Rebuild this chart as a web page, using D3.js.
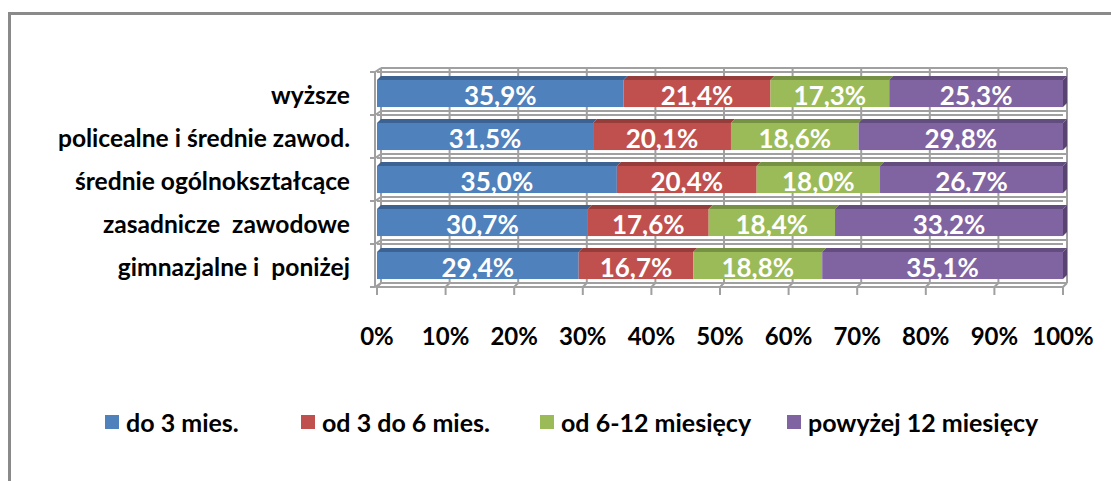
<!DOCTYPE html>
<html><head><meta charset="utf-8">
<script src="https://cdn.jsdelivr.net/npm/d3@7"></script>
<style>
html,body{margin:0;padding:0;background:#fff;}
svg{display:block;}
text{font-family:Lato,"Open Sans",sans-serif;font-weight:700;white-space:pre;}
</style></head>
<body>
<svg id="chart" width="1111" height="481"></svg>
<script>
const categories = ["wyższe","policealne i średnie zawod.","średnie ogólnokształcące","zasadnicze  zawodowe","gimnazjalne i  poniżej"];
const seriesNames = ["do 3 mies.","od 3 do 6 mies.","od 6-12 miesięcy","powyżej 12 miesięcy"];
const do3 = [35.9,31.5,35.0,30.7,29.4];
const od3do6 = [21.4,20.1,20.4,17.6,16.7];
const od6do12 = [17.3,18.6,18.0,18.4,18.8];
const powyzej12 = [25.3,29.8,26.7,33.2,35.1];
const tickValues = [0,0.1,0.2,0.3,0.4,0.5,0.6,0.7,0.8,0.9,1];
const tickLabels = ["0%","10%","20%","30%","40%","50%","60%","70%","80%","90%","100%"];

const colors = ["#4F81BD","#C0504D","#9BBB59","#8064A2"];
const topColors = ["#3B6291","#953D3B","#779144","#624D7E"];
const sideColors = ["#3B6291","#953D3B","#779144","#58446F"];

const svg = d3.select("#chart");
const D = 4; // 3D depth
const x = d3.scaleLinear().domain([0,1]).range([377,1063]);
const y = d3.scaleBand().domain(categories).range([72,287]).paddingInner(0.37).paddingOuter(0.185);
const step = y.step();

// chart border
svg.append("path").attr("d","M9.5,481 L9.5,13.5 L1111,13.5").attr("fill","none").attr("stroke","#8a8a8a").attr("stroke-width",3);

const grid = svg.append("g").attr("stroke","#a0a0a0").attr("stroke-width",2).attr("fill","none");
const yTop = y.range()[0], yBot = y.range()[1];
// vertical back-wall gridlines
tickValues.forEach(t=>{
  grid.append("line").attr("x1",x(t)+D).attr("x2",x(t)+D).attr("y1",yTop-D).attr("y2",yBot-D);
  grid.append("path").attr("d",`M${x(t)+D},${yBot-D} L${x(t)},${yBot} L${x(t)},${yBot+8}`);
});
// horizontal lines at category boundaries
d3.range(categories.length+1).forEach(i=>{
  const yb = yTop + i*step;
  grid.append("line").attr("x1",x(0)+D).attr("x2",x(1)+D).attr("y1",yb-D).attr("y2",yb-D);
  grid.append("line").attr("x1",x(0)).attr("x2",x(1)).attr("y1",yb).attr("y2",yb);
  grid.append("path").attr("d",`M${x(0)-7},${yb} L${x(0)-2},${yb} L${x(0)+D},${yb-D}`);
});
// axis / wall edge lines
grid.append("line").attr("x1",x(0)-2).attr("x2",x(0)-2).attr("y1",yTop).attr("y2",yBot);
grid.append("line").attr("x1",x(0)+D).attr("x2",x(0)+D).attr("y1",yTop-D).attr("y2",yBot-D);
grid.append("line").attr("x1",x(1)+D).attr("x2",x(1)+D).attr("y1",yTop-D).attr("y2",yBot-D);

// data
const rows = categories.map((c,i)=>({cat:c, s0:do3[i], s1:od3do6[i], s2:od6do12[i], s3:powyzej12[i]}));
const keys = ["s0","s1","s2","s3"];
const stacked = d3.stack().keys(keys).offset(d3.stackOffsetExpand)(rows);

const bars = svg.append("g");
stacked.forEach((layer,si)=>{
  layer.forEach(d=>{
    const c = d.data.cat;
    const x0 = x(d[0]), x1 = x(d[1]), yy = y(c), h = y.bandwidth();
    const g = bars.append("g");
    g.append("path").attr("d",`M${x0},${yy} L${x0+D},${yy-D} L${x1+D},${yy-D} L${x1},${yy} Z`).attr("fill",topColors[si]);
    if(si===keys.length-1){
      g.append("path").attr("d",`M${x1},${yy} L${x1+D},${yy-D} L${x1+D},${yy+h-D} L${x1},${yy+h} Z`).attr("fill",sideColors[si]);
    }
    g.append("rect").attr("x",x0).attr("y",yy).attr("width",x1-x0).attr("height",h).attr("fill",colors[si]);
  });
});
// data labels
const fmt = v => d3.format(".1f")(v).replace(".",",")+"%";
stacked.forEach((layer,si)=>{
  layer.forEach(d=>{
    const c = d.data.cat;
    svg.append("text").attr("x",(x(d[0])+x(d[1]))/2).attr("y",y(c)+y.bandwidth()/2+1)
      .attr("text-anchor","middle").attr("dominant-baseline","central")
      .attr("fill","#fff").attr("font-size",26).text(fmt(d.data[keys[si]]));
  });
});
// category labels
categories.forEach(c=>{
  svg.append("text").attr("x",350).attr("y",y(c)+y.bandwidth()/2+1).attr("text-anchor","end")
    .attr("dominant-baseline","central").attr("font-size",24.6).attr("fill","#000").text(c);
});
// x tick labels
tickValues.forEach((t,i)=>{
  svg.append("text").attr("x",x(t)).attr("y",335).attr("text-anchor","middle").attr("dominant-baseline","central")
    .attr("font-size",24).attr("fill","#000").text(tickLabels[i]);
});
// legend
const legendX = [105,301,540,787];
seriesNames.forEach((n,i)=>{
  svg.append("rect").attr("x",legendX[i]).attr("y",415).attr("width",14).attr("height",14).attr("fill",colors[i]);
  svg.append("text").attr("x",legendX[i]+21).attr("y",422).attr("dominant-baseline","central")
    .attr("font-size",25).attr("fill","#000").text(n);
});
</script>
</body></html>
